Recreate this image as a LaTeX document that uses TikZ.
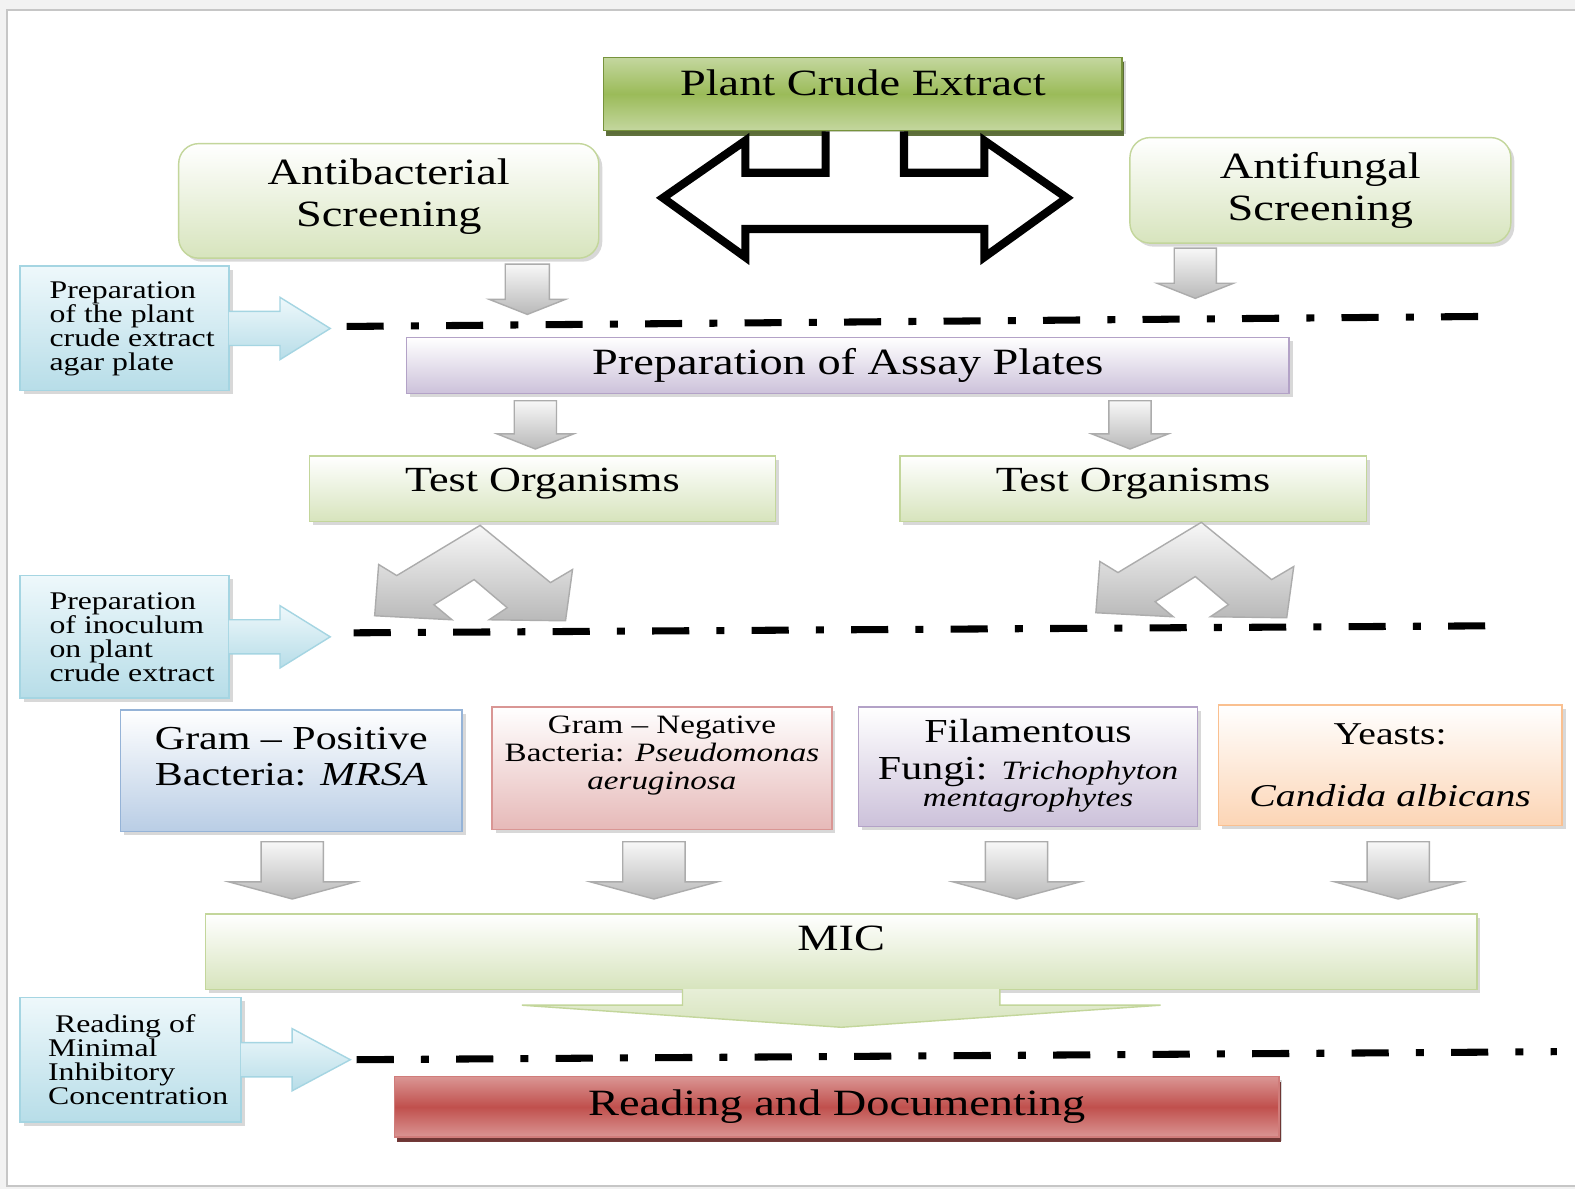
\documentclass[tikz,border=0pt]{standalone}
\usepackage{fontspec}
\setmainfont{Liberation Serif}[FakeStretch=1.25]
\usetikzlibrary{shadows}

\definecolor{pceTop}{HTML}{C4D79F}
\definecolor{pceMid}{HTML}{9BBB59}
\definecolor{pceLine}{HTML}{77933C}
\definecolor{pceDark}{HTML}{4F6228}
\definecolor{grnFill}{HTML}{D7E4BD}
\definecolor{grnLine}{HTML}{C3D69B}
\definecolor{bluTop}{HTML}{EEF8FB}
\definecolor{bluFill}{HTML}{B7DDE8}
\definecolor{bluLine}{HTML}{A5D5E2}
\definecolor{lavFill}{HTML}{CCC1DA}
\definecolor{lavLine}{HTML}{B3A2C7}
\definecolor{gpFill}{HTML}{B9CDE5}
\definecolor{gpLine}{HTML}{95B3D7}
\definecolor{pnkFill}{HTML}{E6B9B8}
\definecolor{pnkLine}{HTML}{D99694}
\definecolor{orgFill}{HTML}{FCD5B5}
\definecolor{orgLine}{HTML}{FAC090}
\definecolor{redTop}{HTML}{DA9593}
\definecolor{redMid}{HTML}{C0504D}
\definecolor{redLine}{HTML}{D07C7A}
\definecolor{redDark}{HTML}{632523}

\begin{document}
\begin{tikzpicture}[
        x=0.01cm, y=-0.01cm, line join=miter,
        box/.style={rectangle, align=center, inner sep=1pt, font=\fontsize{10.5}{12}\selectfont,
            drop shadow={shadow xshift=0.035cm, shadow yshift=-0.035cm, opacity=0.3}},
        pcebox/.style={box, draw=pceLine, top color=pceTop, bottom color=pceTop, middle color=pceMid,
            drop shadow={shadow xshift=0.02cm, shadow yshift=-0.05cm, fill=pceDark, opacity=0.9}},
        greenbox/.style={box, draw=grnLine, top color=white, bottom color=grnFill},
        lavbox/.style={box, draw=lavLine, top color=white, bottom color=lavFill},
        bluebox/.style={box, draw=gpLine, top color=white, bottom color=gpFill},
        pinkbox/.style={box, draw=pnkLine, top color=white, bottom color=pnkFill},
        orangebox/.style={box, draw=orgLine, top color=white, bottom color=orgFill},
        redbox/.style={box, draw=redLine, top color=redTop, bottom color=redTop, middle color=redMid,
            drop shadow={shadow xshift=0.02cm, shadow yshift=-0.05cm, fill=redDark, opacity=0.9}},
        note/.style={box, draw=bluLine, top color=bluTop, bottom color=bluFill, align=left,
            minimum width=2.08cm, minimum height=1.24cm, font=\fontsize{7.2}{6.8}\selectfont},
        notearrow/.style={draw=bluLine, top color=bluTop, bottom color=bluFill},
        micarrow/.style={draw=grnLine, top color=grnFill!60, bottom color=grnFill},
        grayarrow/.style={draw=gray!65, top color=gray!6, bottom color=gray!55},
        outline/.style={draw=black, line width=2.3pt, fill=white},
        sepline/.style={line width=2pt, dash pattern=on 0.37cm off 0.27cm on 0.08cm off 0.27cm},
        pics/blockdown/.style n args={4}{code={
            \path[grayarrow] (-#1,0) -- (#1,0) -- (#1,#3) -- (#2,#3) -- (0,{#3+#4}) -- (-#2,#3) -- (-#1,#3) -- cycle;}},
        pics/splitarrow/.style={code={
            \path[grayarrow] (0,0) -- (-83,50) -- (-101,39) -- (-105,90) -- (-28,94) -- (-46,79)
                -- (-6,54) -- (27,82) -- (9,94) -- (85,95) -- (92,44) -- (70,57) -- cycle;}}
    ]
        \useasboundingbox (0,0) rectangle (1568,1184);
        \fill[gray!10] (0,0) rectangle (1568,1184);
        \draw[gray!45, line width=0.5pt, fill=white] (7,10) rectangle (1580,1181);

        % top part
        \node[pcebox, minimum width=5.16cm, minimum height=0.73cm, text depth=0.22cm] (pce) at (859,93.5) {Plant Crude Extract};
        \node[greenbox, rounded corners=0.2cm, minimum width=4.18cm, minimum height=1.14cm, text depth=0.17cm] (antibac) at (387,200) {Antibacterial\\Screening};
        \node[greenbox, rounded corners=0.2cm, minimum width=3.79cm, minimum height=1.05cm] (antifun) at (1314.5,189.5) {Antifungal\\Screening};

        \draw[outline] ([xshift=-0.37cm]pce.south) -- (822,172) -- (742,172) -- (742,140) -- (660,197) -- (742,256)
            -- (742,228) -- (980,228) -- (980,256) -- (1062,197) -- (980,140) -- (980,172) -- (900,172) -- ([xshift=0.41cm]pce.south);

        \pic at (525,263) {blockdown={22}{38}{35}{15}};
        \pic at (1190,247) {blockdown={21}{38}{35}{15}};

        % side notes
        \node[note] (noteA) at (124,327) {\kern0.15cm Preparation\\\kern0.15cm of the plant\\\kern0.15cm crude extract\\\kern0.15cm agar plate};
        \path[notearrow] ([xshift=-0.01cm]noteA.east) ++(0,-17) -- ++(51,0) -- ++(0,-14) -- ++(50,31) -- ++(-50,31) -- ++(0,-14) -- ++(-51,0);
        \node[note, minimum height=1.22cm] (noteB) at (124,634) {\kern0.15cm Preparation\\\kern0.15cm of inoculum\\\kern0.15cm on plant\\\kern0.15cm crude extract};
        \path[notearrow] ([xshift=-0.01cm]noteB.east) ++(0,-17) -- ++(51,0) -- ++(0,-14) -- ++(50,31) -- ++(-50,31) -- ++(0,-14) -- ++(-51,0);
        \node[note, minimum width=2.20cm] (noteC) at (130,1055) {\kern0.22cm Reading of\\\kern0.15cm Minimal\\\kern0.15cm Inhibitory\\\kern0.15cm Concentration};
        \path[notearrow] ([xshift=-0.01cm]noteC.east) ++(0,-17) -- ++(51,0) -- ++(0,-14) -- ++(58,31) -- ++(-58,31) -- ++(0,-14) -- ++(-51,0);

        \draw[sepline] (345,325) -- (1480,315);
        \draw[sepline] (352,630) -- (1487,623);
        \draw[sepline] (355,1055) -- (1550,1047);

        % assay plates and organisms
        \node[lavbox, minimum width=8.78cm, minimum height=0.56cm] (assay) at (844,364) {Preparation of Assay Plates};
        \pic at (533,399) {blockdown={21}{38}{33}{15}};
        \pic at (1125,399) {blockdown={21}{38}{33}{15}};
        \node[greenbox, minimum width=4.64cm, minimum height=0.65cm, text depth=0.18cm, font=\fontsize{10}{12}\selectfont] (testL) at (540,486.5) {Test Organisms};
        \node[greenbox, minimum width=4.64cm, minimum height=0.65cm, text depth=0.18cm, font=\fontsize{10}{12}\selectfont] (testR) at (1128,486.5) {Test Organisms};
        \pic at (478,523) {splitarrow};
        \pic at (1196,520) {splitarrow};

        % organisms
        \node[bluebox, minimum width=3.40cm, minimum height=1.21cm, text depth=0.29cm, font=\fontsize{9.5}{10.3}\selectfont] (gpos) at (290,767.5) {Gram -- Positive\\Bacteria: \textit{MRSA}};
        \node[pinkbox, minimum width=3.38cm, minimum height=1.22cm, text depth=0.31cm, font=\fontsize{7.5}{8}\selectfont] (gneg) at (659,765) {Gram -- Negative\\Bacteria: \textit{Pseudomonas}\\\textit{aeruginosa}};
        \node[lavbox, minimum width=3.37cm, minimum height=1.19cm, text depth=0.08cm, font=\fontsize{9.5}{10.3}\selectfont] (fila) at (1023.5,763.5) {Filamentous\\Fungi: {\fontsize{7.5}{8}\selectfont\textit{Trichophyton}}\\[-0.09cm]{\fontsize{7.5}{8}\selectfont\textit{mentagrophytes}}};
        \node[orangebox, minimum width=3.42cm, minimum height=1.20cm, font=\fontsize{9}{12}\selectfont] (yeast) at (1384,762) {Yeasts:\\[0.19cm]\textit{Candida albicans}};

        \foreach \x in {291,651,1012,1392}
            \pic at (\x,838) {blockdown={31}{63}{40}{17}};

        % result
        \node[greenbox, minimum width=12.65cm, minimum height=0.75cm, text depth=0.26cm] (mic) at (837.5,947.5) {MIC};
        \path[micarrow] ([shift={(-158,-1)}]mic.south) -- ++(0,16) -- ++(-160,0) -- ++(318,22) -- ++(318,-22) -- ++(-160,0) -- ++(0,-16);
        \node[redbox, minimum width=8.80cm, minimum height=0.60cm] (read) at (833,1102) {Reading and Documenting};
    \end{tikzpicture}
\end{document}
